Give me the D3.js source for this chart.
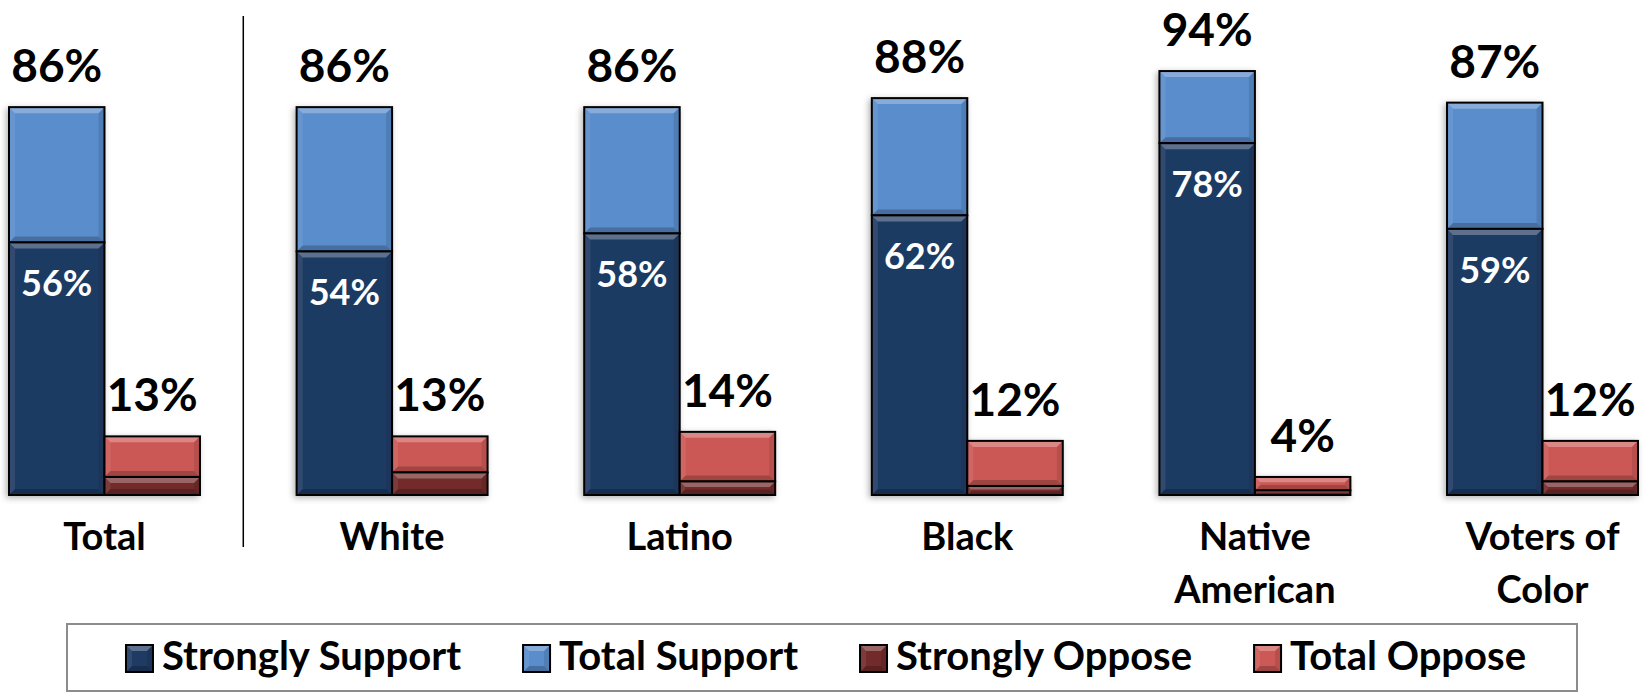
<!DOCTYPE html>
<html>
<head>
<meta charset="utf-8">
<script src="https://cdn.jsdelivr.net/npm/d3@7"></script>
<style>
  body { margin: 0; background: #fff; }
  svg { display: block; font-family: Lato, "Open Sans", sans-serif; font-weight: bold; }
</style>
</head>
<body>
<svg width="1652" height="692"></svg>
<script>
const categories = ["Total", "White", "Latino", "Black", "Native American", "Voters of Color"];
const categoryLines = [["Total"], ["White"], ["Latino"], ["Black"], ["Native", "American"], ["Voters of", "Color"]];
const strongSupport = [56, 54, 58, 62, 78, 59];
const totalSupport = [86, 86, 86, 88, 94, 87];
const strongOppose = [4, 5, 3, 2, 1, 3];
const totalOppose = [13, 13, 14, 12, 4, 12];
const legendNames = ["Strongly Support", "Total Support", "Strongly Oppose", "Total Oppose"];

const colors = {
  strongSupport: '#1f3b64',
  totalSupport: '#5a8dcc',
  strongOppose: '#722b2a',
  totalOppose: '#cc5956'
};
const legendColors = [colors.strongSupport, colors.totalSupport, colors.strongOppose, colors.totalOppose];

const svg = d3.select('svg');

const defs = svg.append('defs');
defs.append('filter').attr('id', 'shadow')
    .attr('x', '-20%').attr('y', '-20%').attr('width', '140%').attr('height', '140%')
  .append('feDropShadow')
    .attr('dx', -2).attr('dy', 2).attr('stdDeviation', 3)
    .attr('flood-color', '#000').attr('flood-opacity', 0.3);

const x0 = d3.scaleBand().domain(categories).range([9, 1638]).paddingInner(0.336).paddingOuter(0);
const x1 = d3.scaleBand().domain(['support', 'oppose']).range([0, x0.bandwidth()]);
const y = d3.scaleLinear().domain([0, 100]).range([495, 44]);

// bevelled box, like the office chart style
function bevelRect(g, x, yTop, w, h, fill) {
  const b = Math.min(6, h / 2.5);
  g.append('rect').attr('x', x).attr('y', yTop).attr('width', w).attr('height', h)
    .attr('fill', fill);
  const faces = [
    {pts: [[x, yTop], [x + w, yTop], [x + w - b, yTop + b], [x + b, yTop + b]], c: '#fff', o: 0.28},
    {pts: [[x, yTop + h], [x + w, yTop + h], [x + w - b, yTop + h - b], [x + b, yTop + h - b]], c: '#000', o: 0.22},
    {pts: [[x, yTop], [x + b, yTop + b], [x + b, yTop + h - b], [x, yTop + h]], c: '#fff', o: 0.08},
    {pts: [[x + w, yTop], [x + w - b, yTop + b], [x + w - b, yTop + h - b], [x + w, yTop + h]], c: '#000', o: 0.1}
  ];
  faces.forEach(f => {
    g.append('polygon').attr('points', f.pts.map(p => p.join(',')).join(' '))
      .attr('fill', f.c).attr('opacity', f.o);
  });
  g.append('rect').attr('x', x).attr('y', yTop).attr('width', w).attr('height', h)
    .attr('fill', 'none').attr('stroke', '#000').attr('stroke-width', 2);
}

const bars = svg.append('g').attr('filter', 'url(#shadow)');

categories.forEach((c, i) => {
  const gx = x0(c);
  const w = x1.bandwidth();
  const sx = gx + x1('support');
  const ox = gx + x1('oppose');

  // support stack
  bevelRect(bars, sx, y(totalSupport[i]), w, y(strongSupport[i]) - y(totalSupport[i]), colors.totalSupport);
  bevelRect(bars, sx, y(strongSupport[i]), w, y(0) - y(strongSupport[i]), colors.strongSupport);
  // oppose stack
  bevelRect(bars, ox, y(totalOppose[i]), w, y(strongOppose[i]) - y(totalOppose[i]), colors.totalOppose);
  bevelRect(bars, ox, y(strongOppose[i]), w, y(0) - y(strongOppose[i]), colors.strongOppose);
});

const labels = svg.append('g').attr('text-anchor', 'middle');

categories.forEach((c, i) => {
  const w = x1.bandwidth();
  const sx = x0(c) + x1('support') + w / 2;
  const ox = x0(c) + x1('oppose') + w / 2;

  labels.append('text').attr('x', sx).attr('y', y(totalSupport[i]) - 25)
    .attr('font-size', 46).attr('fill', '#000').text(totalSupport[i] + '%');
  labels.append('text').attr('x', sx).attr('y', y(strongSupport[i]) + 54)
    .attr('font-size', 36).attr('fill', '#fff').text(strongSupport[i] + '%');
  labels.append('text').attr('x', ox).attr('y', y(totalOppose[i]) - 25)
    .attr('font-size', 46).attr('fill', '#000').text(totalOppose[i] + '%');

  const t = labels.append('text').attr('x', x0(c) + x0.bandwidth() / 2).attr('y', 550)
    .attr('font-size', 38).attr('fill', '#000');
  categoryLines[i].forEach((line, j) => {
    t.append('tspan').attr('x', x0(c) + x0.bandwidth() / 2).attr('dy', j === 0 ? 0 : 53).text(line);
  });
});

// divider between Total and the groups
const divX = (x0(categories[0]) + x0.bandwidth() + x0(categories[1])) / 2 - 5;
svg.append('line').attr('x1', divX).attr('x2', divX).attr('y1', 16).attr('y2', 547)
  .attr('stroke', '#000').attr('stroke-width', 1.5);

// legend
const legend = svg.append('g');
legend.append('rect').attr('x', 67).attr('y', 624).attr('width', 1510).attr('height', 67)
  .attr('fill', '#fff').attr('stroke', '#8c8c8c').attr('stroke-width', 2);

const items = legend.append('g');
let lx = 0;
legendNames.forEach((name, i) => {
  const it = items.append('g').attr('transform', `translate(${lx},0)`);
  bevelRect(it, 0, 645, 27, 27, legendColors[i]);
  const txt = it.append('text').attr('x', 36).attr('y', 670)
    .attr('font-size', 40).attr('fill', '#000').text(name);
  lx += 36 + txt.node().getComputedTextLength() + 62;
});
const contentW = lx - 62;
items.attr('transform', `translate(${67 + (1510 - contentW) / 2 + 4},0)`);
</script>
</body>
</html>
